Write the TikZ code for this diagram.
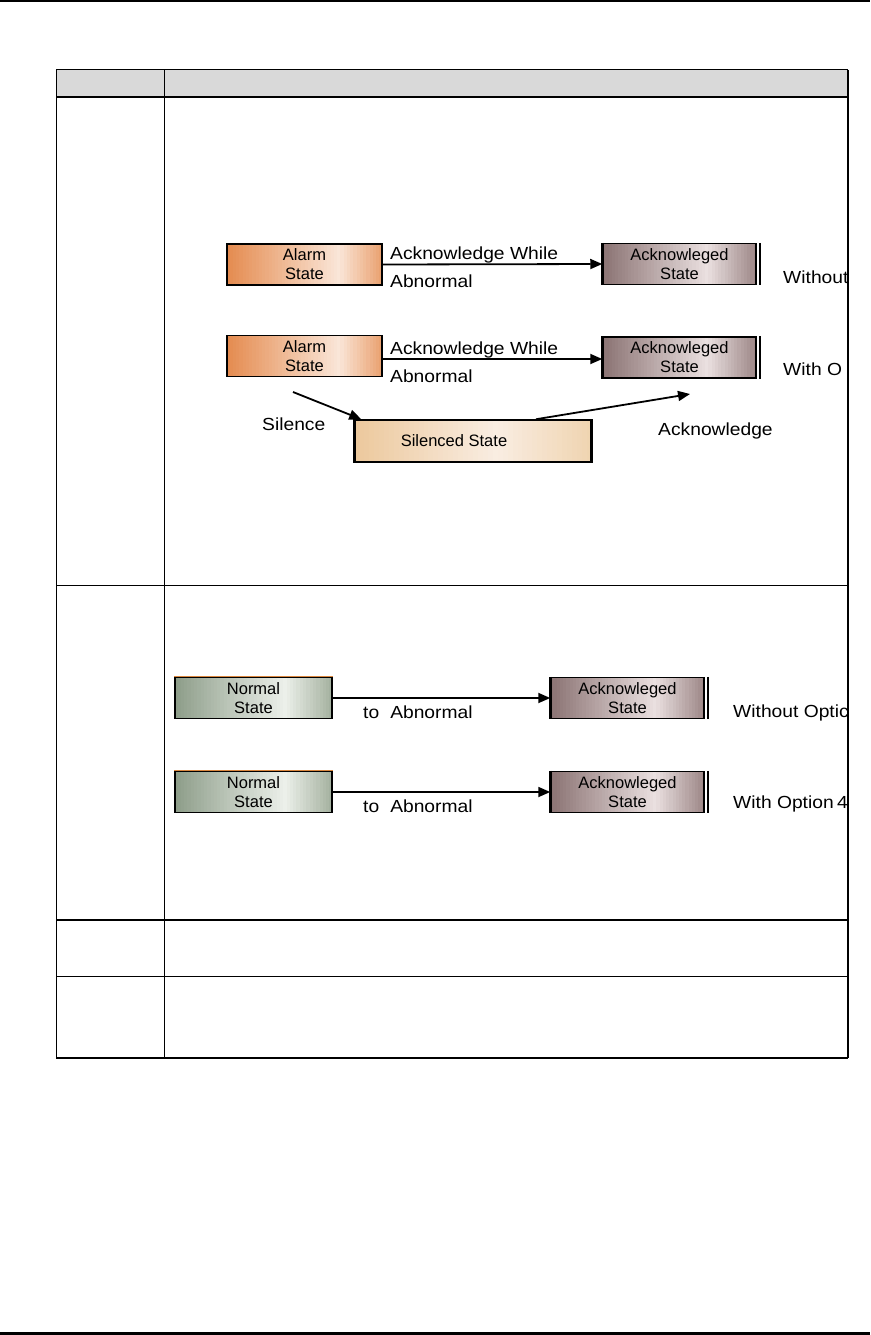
\documentclass[tikz,border=0pt]{standalone}
\usepackage{fontspec}
\usepackage{graphicx}
\setmainfont{Liberation Sans}
\usetikzlibrary{arrows.meta,calc,backgrounds}
\newcommand\lb[1]{\scalebox{1.1}[1]{#1}}
\definecolor{hdrgray}{HTML}{D9D9D9}
\definecolor{alarmL}{HTML}{E48A4E}
\definecolor{alarmM}{HTML}{FAE6D8}
\definecolor{alarmR}{HTML}{E9A06E}
\definecolor{ackL}{HTML}{8A7272}
\definecolor{ackM}{HTML}{EAE0E0}
\definecolor{ackR}{HTML}{9C8686}
\definecolor{silL}{HTML}{ECC89C}
\definecolor{silM}{HTML}{F9EDE2}
\definecolor{silR}{HTML}{EFD4B0}
\definecolor{normL}{HTML}{8C9C88}
\definecolor{normM}{HTML}{ECF0EA}
\definecolor{normR}{HTML}{A3B09E}
\definecolor{topline}{HTML}{D9863E}
\newcommand\gradfill[5]{%
  \begin{pgfonlayer}{background}
  \foreach \i in {0,...,47}{%
    \pgfmathsetmacro\ta{\i/48}%
    \pgfmathsetmacro\tb{min((\i+1.4)/48,1)}%
    \pgfmathsetmacro\tc{(\i+0.5)/48}%
    \ifdim\tc pt<#5pt
      \pgfmathsetmacro\pp{100*\tc/#5}%
      \colorlet{gradc}{#3!\pp!#2}%
    \else
      \pgfmathsetmacro\pp{100*(\tc-#5)/(1-#5)}%
      \colorlet{gradc}{#4!\pp!#3}%
    \fi
    \fill[gradc] ($(#1.north west)!\ta!(#1.north east)$) rectangle ($(#1.south west)!\tb!(#1.south east)$);
  }%
  \end{pgfonlayer}}
\begin{document}
\begin{tikzpicture}[x=1pt,y=-1pt,
  thinrule/.style={line width=1pt},
  thickrule/.style={line width=2.2pt},
  statebox/.style={draw=black, line width=1.5pt, minimum height=41pt,
    inner sep=0pt, align=center, text=black,
    font=\fontsize{16.5}{19}\selectfont},
  alarmbox/.style={statebox, minimum width=155pt},
  ackbox/.style={statebox, minimum width=153pt},
  silbox/.style={statebox, minimum width=236pt, minimum height=42pt},
  normbox/.style={statebox, minimum width=157pt},
  lbl/.style={font=\fontsize{17.5}{19}\selectfont, inner sep=0pt, anchor=base west},
  arr/.style={line width=1.8pt, -{Triangle[length=12pt,width=10pt]}},
  bar/.style={line width=2pt},
  lside/.style={line width=2.6pt}
]
\useasboundingbox (0,0) rectangle (870,1335);
\begin{pgfonlayer}{background}
\fill[white] (0,0) rectangle (870,1335);
\fill[hdrgray] (56,70) rectangle (848,97);
\end{pgfonlayer}
% page rules
\draw[line width=1.6pt] (0,1) -- (870,1);
\draw[line width=3pt] (0,1333) -- (870,1333);
% table
\draw[thinrule] (56,70) -- (848,70);
\draw[thinrule] (56,70) -- (56,1058);
\draw[line width=1.4pt] (848,70) -- (848,1058);
\draw[thinrule] (164,70) -- (164,1058);
\draw[thickrule] (56,97) -- (848,97);
\draw[thinrule] (56,585) -- (848,585);
\draw[thickrule] (56,920) -- (848,920);
\draw[thinrule] (56,976) -- (848,976);
\draw[line width=2.6pt] (56,1058) -- (848,1058);

\begin{scope}
\clip (165,98) rectangle (847.3,1057);
% ---- diagram 1 ----
\node[alarmbox] (alarm1) at (304.5,264.5) {Alarm\\State};
\gradfill{alarm1}{alarmL}{alarmM}{alarmR}{0.72}
\node[ackbox] (ack1) at (679.5,264) {Acknowleged\\State};
\gradfill{ack1}{ackL}{ackM}{ackR}{0.68}
\draw[lside] (ack1.north west) -- (ack1.south west);
\draw[bar] ([xshift=3pt]ack1.north east) -- ([xshift=3pt]ack1.south east);
\draw[arr] (alarm1.east) -- (ack1.west);
\node[lbl] (l1a) at (390,259) {\lb{Acknowledge While}};
\node[lbl] (l1b) at (390,287) {\lb{Abnormal}};
\node[lbl] (wo1) at (783,283) {\lb{Without}};

\node[alarmbox] (alarm2) at (304.5,356) {Alarm\\State};
\gradfill{alarm2}{alarmL}{alarmM}{alarmR}{0.72}
\node[ackbox] (ack2) at (679.5,357.5) {Acknowleged\\State};
\gradfill{ack2}{ackL}{ackM}{ackR}{0.68}
\draw[lside] (ack2.north west) -- (ack2.south west);
\draw[bar] ([xshift=3pt]ack2.north east) -- ([xshift=3pt]ack2.south east);
\draw[arr] ([yshift=-3pt]alarm2.east) -- ([yshift=-1.5pt]ack2.west);
\node[lbl] (l2a) at (390,354) {\lb{Acknowledge While}};
\node[lbl] (l2b) at (390,382) {\lb{Abnormal}};
\node[lbl] (wi1) at (783,375) {\lb{With O}};

\node[silbox] (sil) at (473,441) {\hspace*{-38pt}Silenced State};
\gradfill{sil}{silL}{silM}{silR}{0.6}
\draw[line width=3pt] (sil.north west) -- (sil.south west);
\draw[line width=3pt] (sil.north east) -- (sil.south east);
\coordinate (sstart) at (293,392);
\coordinate (aend) at (690,394);
\draw[arr] (sstart) -- ([xshift=7pt]sil.north west);
\draw[arr] ([xshift=63pt]sil.north) -- (aend);
\node[lbl] (silence) at (262,430) {\lb{Silence}};
\node[lbl] (ackl) at (658,435) {\lb{Acknowledge}};

% ---- diagram 2 ----
\node[normbox] (norm1) at (253.5,698) {Normal\\State};
\gradfill{norm1}{normL}{normM}{normR}{0.7}
\draw[topline, line width=1pt] (norm1.north west) -- (norm1.north east);
\node[ackbox] (ackn1) at (627.5,698) {Acknowleged\\State};
\gradfill{ackn1}{ackL}{ackM}{ackR}{0.68}
\draw[lside] (ackn1.north west) -- (ackn1.south west);
\draw[bar] ([xshift=3pt]ackn1.north east) -- ([xshift=3pt]ackn1.south east);
\draw[arr] (norm1.east) -- (ackn1.west);
\node[lbl] (ta1) at (363,718) {\lb{to\hspace{10pt}Abnormal}};
\node[lbl] (wo2) at (733,717) {\lb{Without Optic}};

\node[normbox] (norm2) at (253.5,792) {Normal\\State};
\gradfill{norm2}{normL}{normM}{normR}{0.7}
\draw[topline, line width=1pt] (norm2.north west) -- (norm2.north east);
\node[ackbox] (ackn2) at (627.5,792) {Acknowleged\\State};
\gradfill{ackn2}{ackL}{ackM}{ackR}{0.68}
\draw[lside] (ackn2.north west) -- (ackn2.south west);
\draw[bar] ([xshift=3pt]ackn2.north east) -- ([xshift=3pt]ackn2.south east);
\draw[arr] (norm2.east) -- (ackn2.west);
\node[lbl] (ta2) at (363,812) {\lb{to\hspace{10pt}Abnormal}};
\node[lbl] (wi2) at (733,808) {\lb{With Option\hspace{3pt}4}};
\end{scope}
\end{tikzpicture}
\end{document}
